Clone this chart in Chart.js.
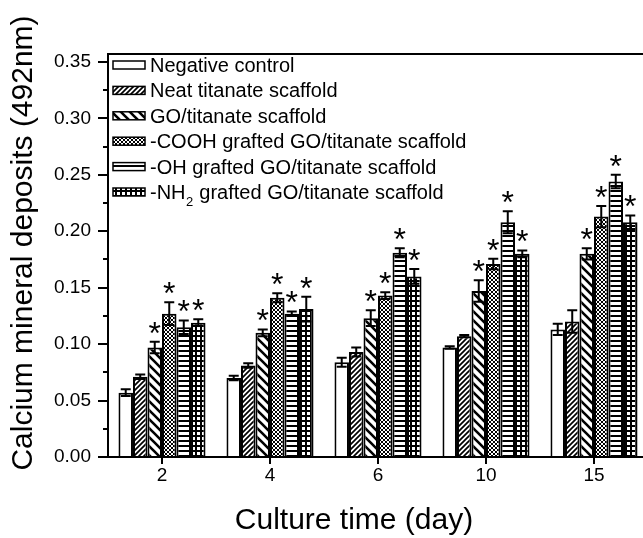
<!DOCTYPE html>
<html>
<head>
<meta charset="utf-8">
<script src="https://cdn.jsdelivr.net/npm/chart.js@4.4.1/dist/chart.umd.min.js"></script>
<style>
  html, body { margin: 0; padding: 0; background: #fff; overflow: hidden; }
  #wrap { width: 660px; height: 538px; }
</style>
</head>
<body>
<div id="wrap"><canvas id="chart" width="660" height="538"></canvas></div>
<script>
// culture days on the x axis
const days = ["2", "4", "6", "10", "15"];

const seriesNames = [
  "Negative control",
  "Neat titanate scaffold",
  "GO/titanate scaffold",
  "-COOH grafted GO/titanate scaffold",
  "-OH grafted GO/titanate scaffold",
  "-NH2 grafted GO/titanate scaffold"
];

// absorbance at 492nm
const negativeControl = [0.057, 0.070, 0.084, 0.097, 0.113];
const neatTitanate = [0.071, 0.081, 0.093, 0.107, 0.120];
const goTitanate = [0.097, 0.110, 0.123, 0.147, 0.180];
const coohGrafted = [0.127, 0.141, 0.143, 0.171, 0.213];
const ohGrafted = [0.115, 0.127, 0.181, 0.208, 0.244];
const nh2Grafted = [0.119, 0.131, 0.160, 0.180, 0.208];

// standard deviations
const negativeErr = [0.003, 0.002, 0.004, 0.001, 0.005];
const neatErr = [0.002, 0.002, 0.004, 0.001, 0.010];
const goErr = [0.005, 0.003, 0.007, 0.0095, 0.005];
const coohErr = [0.010, 0.004, 0.003, 0.0047, 0.0094];
const ohErr = [0.006, 0.002, 0.004, 0.0097, 0.006];
const nh2Err = [0.003, 0.011, 0.0065, 0.003, 0.006];

// which series carry a significance star
const starred = [false, false, true, true, true, true];

const yTickValues = [0, 0.05, 0.10, 0.15, 0.20, 0.25, 0.30, 0.35];

const FONT = "'Liberation Sans', Arial, Helvetica, sans-serif";

function makePattern(kind) {
  if (kind === "none") return "#ffffff";
  const c = document.createElement("canvas");
  const g = c.getContext("2d");
  let s = 5;
  if (kind === "back") s = 9;
  if (kind === "cross") s = 4;
  c.width = s;
  c.height = s;
  g.fillStyle = "#fff";
  g.fillRect(0, 0, s, s);
  g.fillStyle = "#000";
  g.strokeStyle = "#000";
  if (kind === "fwd") {
    g.lineWidth = 1.7;
    g.beginPath();
    g.moveTo(-1, s + 1); g.lineTo(s + 1, -1);
    g.moveTo(-1, 1); g.lineTo(1, -1);
    g.moveTo(s - 1, s + 1); g.lineTo(s + 1, s - 1);
    g.stroke();
  } else if (kind === "back") {
    g.lineWidth = 2.6;
    g.beginPath();
    g.moveTo(-1, -1); g.lineTo(s + 1, s + 1);
    g.moveTo(s - 2, -2); g.lineTo(s + 2, 2);
    g.moveTo(-2, s - 2); g.lineTo(2, s + 2);
    g.stroke();
  } else if (kind === "cross") {
    g.lineWidth = 1;
    g.beginPath();
    g.moveTo(-1, -1); g.lineTo(s + 1, s + 1);
    g.moveTo(-1, s + 1); g.lineTo(s + 1, -1);
    g.stroke();
  } else if (kind === "horiz") {
    g.fillRect(0, 0, s, 2);
  } else if (kind === "grid") {
    g.fillRect(0, 0, s, 2);
    g.fillRect(0, 0, 2, s);
  }
  return g.createPattern(c, "repeat");
}

const fills = ["none", "fwd", "back", "cross", "horiz", "grid"].map(makePattern);
const values = [negativeControl, neatTitanate, goTitanate, coohGrafted, ohGrafted, nh2Grafted];
const errors = [negativeErr, neatErr, goErr, coohErr, ohErr, nh2Err];

const datasets = values.map((v, i) => ({
  label: seriesNames[i],
  data: v,
  backgroundColor: fills[i],
  borderColor: "#000",
  borderWidth: 2,
  borderSkipped: "bottom",
  categoryPercentage: 0.806,
  barPercentage: 1.0
}));

// frame, minor ticks, error bars, stars, legend and axis titles
const extras = {
  id: "extras",
  afterDatasetsDraw(chart) {
    const ctx = chart.ctx;
    const y = chart.scales.y;
    const a = chart.chartArea;
    ctx.save();
    ctx.strokeStyle = "#000";
    ctx.fillStyle = "#000";

    // frame top / right
    ctx.lineWidth = 2;
    ctx.beginPath();
    ctx.moveTo(a.left - 1, a.top);
    ctx.lineTo(a.right, a.top);
    ctx.lineTo(a.right, a.bottom);
    ctx.stroke();

    // minor ticks
    ctx.lineWidth = 2;
    for (let k = 0; k < yTickValues.length - 1; k++) {
      const v = (yTickValues[k] + yTickValues[k + 1]) / 2;
      const py = Math.round(y.getPixelForValue(v));
      ctx.beginPath();
      ctx.moveTo(a.left - 5, py);
      ctx.lineTo(a.left, py);
      ctx.stroke();
    }

    // error bars + stars
    ctx.font = "32px " + FONT;
    ctx.textAlign = "center";
    const m = ctx.measureText("*");
    const starShift = (m.actualBoundingBoxAscent - m.actualBoundingBoxDescent) / 2;
    values.forEach((series, i) => {
      const meta = chart.getDatasetMeta(i);
      meta.data.forEach((bar, j) => {
        const top = y.getPixelForValue(series[j] + errors[i][j]);
        const bot = y.getPixelForValue(series[j] - errors[i][j]);
        ctx.lineWidth = 2;
        ctx.beginPath();
        ctx.moveTo(bar.x, top);
        ctx.lineTo(bar.x, bot);
        ctx.moveTo(bar.x - 5, top);
        ctx.lineTo(bar.x + 5, top);
        ctx.moveTo(bar.x - 5, bot);
        ctx.lineTo(bar.x + 5, bot);
        ctx.stroke();
        if (starred[i]) {
          ctx.fillText("*", bar.x, top - 14 + starShift);
        }
      });
    });

    // legend
    ctx.textAlign = "left";
    ctx.textBaseline = "alphabetic";
    seriesNames.forEach((name, i) => {
      const cy = 65 + i * 25.4;
      ctx.fillStyle = fills[i];
      ctx.fillRect(113, cy - 4, 32, 8);
      ctx.lineWidth = 1.5;
      ctx.strokeStyle = "#000";
      ctx.strokeRect(113, cy - 4, 32, 8);
      ctx.fillStyle = "#000";
      ctx.font = "20px " + FONT;
      const base = cy + 7;
      if (name.indexOf("NH2") >= 0) {
        const head = "-NH";
        const tail = name.slice(name.indexOf("NH2") + 3);
        ctx.fillText(head, 150, base);
        let x = 150 + ctx.measureText(head).width;
        ctx.font = "13px " + FONT;
        ctx.fillText("2", x + 0.5, base + 7);
        x += ctx.measureText("2").width + 1;
        ctx.font = "20px " + FONT;
        ctx.fillText(tail, x, base);
      } else {
        ctx.fillText(name, 150, base);
      }
    });

    // axis titles
    ctx.font = "30px " + FONT;
    ctx.textAlign = "center";
    ctx.fillText("Culture time (day)", 354, 529);
    ctx.translate(32, 243);
    ctx.rotate(-Math.PI / 2);
    ctx.fillText("Calcium mineral deposits (492nm)", 0, 0);
    ctx.restore();
  }
};

new Chart(document.getElementById("chart"), {
  type: "bar",
  data: { labels: days, datasets: datasets },
  options: {
    responsive: false,
    animation: false,
    devicePixelRatio: 1,
    layout: { padding: { top: 54, right: 12, left: 0, bottom: 0 } },
    plugins: {
      legend: { display: false },
      tooltip: { enabled: false },
      title: { display: false }
    },
    scales: {
      x: {
        type: "category",
        offset: true,
        grid: {
          display: true,
          drawOnChartArea: false,
          offset: false,
          tickLength: 7,
          color: "#000",
          lineWidth: 2
        },
        border: { display: true, color: "#000", width: 2 },
        ticks: { color: "#000", font: { size: 19, family: FONT }, padding: 0, maxRotation: 0 },
        afterFit(scale) { scale.height = 81; }
      },
      y: {
        min: 0,
        max: 0.357,
        grid: {
          display: true,
          drawOnChartArea: false,
          tickLength: 10,
          color: "#000",
          lineWidth: 2
        },
        border: { display: true, color: "#000", width: 2 },
        ticks: {
          stepSize: 0.05,
          includeBounds: false,
          color: "#000",
          font: { size: 19, family: FONT },
          padding: 7,
          callback: (v) => v.toFixed(2)
        },
        afterBuildTicks(scale) {
          scale.ticks = yTickValues.map((v) => ({ value: v }));
        },
        afterFit(scale) { scale.width = 108; }
      }
    }
  },
  plugins: [extras]
});
</script>
</body>
</html>
